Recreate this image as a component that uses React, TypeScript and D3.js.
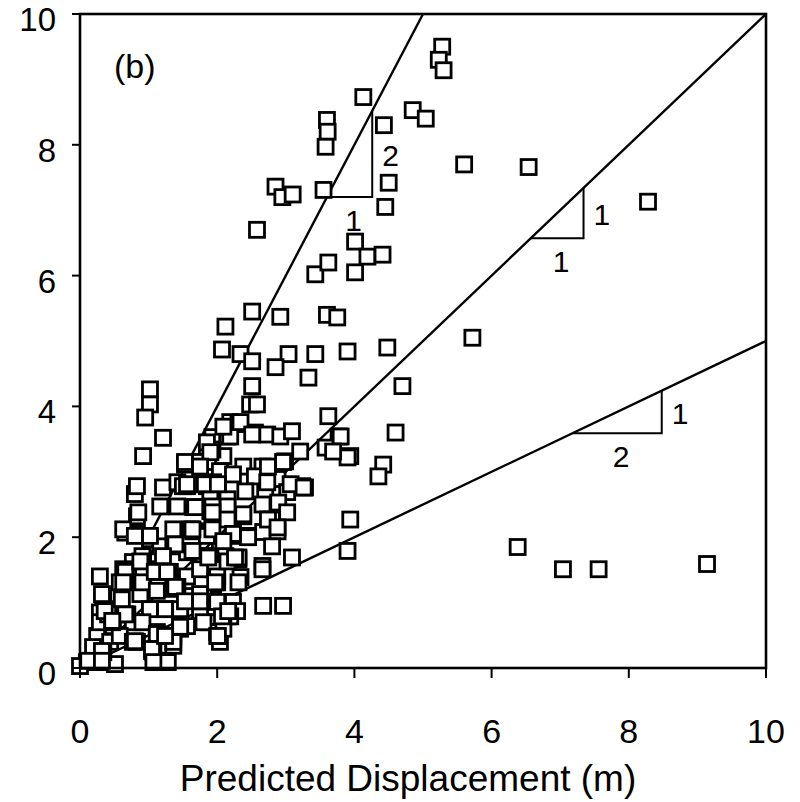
import React from "react";
import * as d3 from "d3";

// Observed (y) vs predicted (x) displacement (m)
const predicted: number[] = [];
const observed: number[] = [];

const points: [number, number][] = [
  // upper sparse points
  [4.13,8.73],[5.28,9.50],[5.23,9.30],[5.30,9.14],[4.85,8.53],[5.04,8.40],[3.60,8.38],[3.61,8.20],[3.58,7.97],[4.43,8.30],
  [4.50,7.42],[4.45,7.05],[5.60,7.70],[6.54,7.66],[8.28,7.13],[2.85,7.36],[2.95,7.20],[3.10,7.24],[3.55,7.31],[2.58,6.70],
  [4.01,6.52],[4.19,6.29],[4.41,6.32],[4.01,6.05],[3.43,6.02],[3.62,6.20],[2.51,5.45],[2.12,5.22],[2.92,5.37],[3.60,5.40],
  [3.75,5.36],[2.07,4.87],[2.34,4.80],[2.51,4.69],[3.04,4.80],[2.85,4.60],[3.43,4.80],[3.90,4.84],[4.48,4.90],[5.72,5.05],
  [3.33,4.44],[2.51,4.31],[2.48,4.03],[2.58,4.03],[4.70,4.31],[3.62,3.85],[4.60,3.60],[4.42,3.11],[4.35,2.93],[3.77,3.54],
  [3.94,3.24],[3.94,2.27],[3.90,1.79],[6.38,1.85],[7.04,1.51],[7.56,1.51],[9.14,1.59],
  // left / scattered
  [1.02,4.26],[1.02,4.03],[0.95,3.83],[1.21,3.52],[0.92,3.24],[3.58,3.37],[3.24,2.78],[3.09,1.69],[2.67,0.95],[2.96,0.95],
  [0.29,1.40],[0.80,2.66],[0.83,2.32],[0.66,2.07],
  // dense cluster
  [3.80,3.54],[3.90,3.22],[3.69,3.31],[2.19,3.76],[2.31,3.73],[2.55,3.60],[2.73,3.57],[2.92,3.54],[3.09,3.62],[1.93,3.53],
  [2.15,3.54],[3.21,3.31],[2.99,3.16],[1.85,3.31],[1.87,3.15],[2.09,3.24],[2.38,3.08],[2.66,3.08],[2.80,3.07],[2.04,3.01],
  [2.23,2.96],[2.55,2.93],[2.88,2.89],[3.28,2.76],[1.85,2.78],[2.01,2.78],[2.41,2.70],[2.70,2.69],[3.02,2.69],[1.90,2.58],
  [2.15,2.58],[2.66,2.50],[2.89,2.53],[1.90,2.40],[2.38,2.32],[2.80,2.27],[3.02,2.38],[1.90,2.09],[2.26,2.02],[2.45,2.02],
  [2.67,2.08],[2.88,2.09],[2.04,1.89],[2.80,1.86],[1.85,1.71],[2.12,1.71],[2.31,1.66],[2.66,1.56],[1.94,1.51],[2.34,1.39],
  [2.66,1.51],[2.00,1.31],[1.94,1.05],[2.23,1.01],[1.94,0.85],[2.15,0.79],[2.29,0.87],[1.87,0.70],
  [1.53,3.11],[1.75,3.15],[1.93,3.34],[1.85,3.45],[2.19,3.54],[2.34,3.76],[2.09,3.69],
  [1.21,2.76],[1.42,2.84],[1.56,2.78],[1.75,2.81],[1.94,2.84],
  [1.17,2.47],[1.42,2.47],[1.65,2.46],[2.15,2.47],
  [0.83,2.05],[1.02,1.97],[1.36,2.12],[1.65,2.09],
  [1.17,1.86],[1.36,1.86],[1.56,1.77],[1.80,1.71],
  [0.92,1.66],[0.77,1.62],[0.63,1.51],[1.07,1.51],[1.31,1.47],[1.56,1.40],[1.75,1.51],[2.00,1.40],
  [0.34,1.10],[0.58,1.31],[0.88,1.31],[1.07,1.21],[1.31,1.21],[1.56,1.10],[1.80,1.10],[2.00,1.01],
  [0.44,0.90],[0.69,0.82],[1.02,0.90],[1.24,0.90],[1.46,0.79],[1.75,0.79],[2.19,0.79],
  [0.29,0.85],[0.48,0.64],[0.77,0.70],[1.12,0.55],[1.36,0.49],[1.56,0.64],[2.00,0.55],[2.04,0.40],
  [0.25,0.49],[0.44,0.40],[0.83,0.40],[1.07,0.24],[1.36,0.34],[1.21,0.11],[0.10,0.09],[0.29,0.09],[0.51,0.06],[0.00,0.03],
  [0.34,0.24],[0.19,0.32],[0.58,0.49],[0.29,0.70],
  [0.83,2.78],[1.50,2.78],[1.93,2.47],[0.85,2.38],[2.15,2.27],[0.63,2.12],[1.61,2.12],[1.02,2.02],[0.80,2.02],[1.85,2.02],
  [1.39,1.89],[0.91,1.71],[1.21,1.71],[2.15,1.63],[1.24,1.47],[0.66,1.47],[0.92,1.47],[0.63,1.31],[1.42,1.24],[1.14,1.24],
  [0.32,1.13],[0.88,1.13],[1.75,1.13],[0.61,1.05],[1.02,0.90],[1.24,0.90],[1.46,0.90],[0.66,0.82],[0.41,0.82],[0.47,0.70],
  [0.91,0.70],[1.80,0.70],[1.46,0.60],[2.09,0.60],[1.12,0.49],[2.00,0.49],[0.77,0.40],[1.36,0.40],[0.32,0.26],[1.05,0.26],
  [0.12,0.11],[0.32,0.11],[1.14,0.11],
  [2.51,3.57],[1.90,3.30],[2.74,3.08],[2.96,3.15],[1.53,3.15],[1.75,3.08],[1.56,2.81],[1.82,2.81],[2.01,2.81],[2.73,2.84],
  [3.07,2.81],[3.26,2.76],[1.68,2.46],[1.93,2.38],[2.38,2.35],[2.74,2.27],[1.64,2.12],[1.93,2.12],[2.23,2.05],[2.45,2.00],
  [2.88,2.15],[1.64,1.79],[1.87,1.69],[2.09,1.94],[2.31,1.69],
  [0.36,0.87],[0.47,0.72],[0.91,1.31],[0.88,1.63],[1.09,1.47],[1.27,1.47],[1.12,1.18],[1.39,1.24],[1.46,0.63],[1.12,0.52],
  [0.80,0.41],[1.05,0.29],[1.28,0.09],[1.07,0.09],[1.75,1.02],[1.97,1.31],[2.07,0.79],[2.01,0.49],[2.26,1.69],[2.31,1.31],
  [2.16,0.87],[1.53,1.02],[1.24,0.49],
];
points.forEach(([x, y]) => { predicted.push(x); observed.push(y); });

const xTicks = [0, 2, 4, 6, 8, 10];
const yTicks = [0, 2, 4, 6, 8, 10];

// reference lines: observed = slope * predicted
const slopes = [2, 1, 0.5];
// slope triangles
const triangles: { x0: number; x1: number; slope: number; run: string; rise: string }[] = [
  { x0: 3.6, x1: 4.26, slope: 2, run: "1", rise: "2" },
  { x0: 6.57, x1: 7.34, slope: 1, run: "1", rise: "1" },
  { x0: 7.18, x1: 8.48, slope: 0.5, run: "2", rise: "1" },
];

export default function App() {
  const x = d3.scaleLinear().domain([0, 10]).range([80, 766]);
  const y = d3.scaleLinear().domain([0, 10]).range([668, 14]);
  const font = "'Liberation Sans', Arial, sans-serif";
  const sq = 15;
  return (
    <svg width={800} height={802} style={{ position: "absolute", left: 0, top: 0, background: "#fff" }}>
      <rect x={0} y={0} width={800} height={802} fill="#fff" />
      {slopes.map((s) => {
        const xe = Math.min(10, 10 / s);
        return (
          <line key={s} x1={x(0)} y1={y(0)} x2={x(xe)} y2={y(xe * s)} stroke="#000" strokeWidth={2.4} />
        );
      })}
      {triangles.map((t, i) => {
        const ya = t.x0 * t.slope;
        const yb = t.x1 * t.slope;
        return (
          <g key={i}>
            <polyline
              points={`${x(t.x0)},${y(ya)} ${x(t.x1)},${y(ya)} ${x(t.x1)},${y(yb)}`}
              fill="none" stroke="#000" strokeWidth={2}
            />
            <text x={(x(t.x0) + x(t.x1)) / 2 + (t.slope === 2 ? 4 : 4)} y={y(ya) + 34} fontSize={30} fontFamily={font} textAnchor="middle">{t.run}</text>
            <text x={x(t.x1) + 10} y={(y(ya) + y(yb)) / 2 + 12} fontSize={30} fontFamily={font}>{t.rise}</text>
          </g>
        );
      })}
      {predicted.map((px, i) => (
        <rect key={i} x={x(px) - sq / 2} y={y(observed[i]) - sq / 2} width={sq} height={sq}
          fill="#fff" stroke="#000" strokeWidth={2.8} />
      ))}
      <rect x={x(0)} y={y(10)} width={x(10) - x(0)} height={y(0) - y(10)} fill="none" stroke="#000" strokeWidth={2.6} />
      {yTicks.map((t) => (
        <g key={"y" + t}>
          <line x1={x(0) - 8} x2={x(0)} y1={y(t)} y2={y(t)} stroke="#000" strokeWidth={2} />
          <text x={56} y={y(t) + 17} fontSize={33} fontFamily={font} textAnchor="end">{t}</text>
        </g>
      ))}
      {xTicks.map((t) => (
        <g key={"x" + t}>
          <line x1={x(t)} x2={x(t)} y1={y(0)} y2={y(0) + 10} stroke="#000" strokeWidth={2} />
          <text x={x(t)} y={743} fontSize={34} fontFamily={font} textAnchor="middle">{t}</text>
        </g>
      ))}
      <text x={408} y={791} fontSize={37} fontFamily={font} textAnchor="middle">Predicted Displacement (m)</text>
      <text x={114} y={78} fontSize={34} fontFamily={font}>(b)</text>
    </svg>
  );
}
